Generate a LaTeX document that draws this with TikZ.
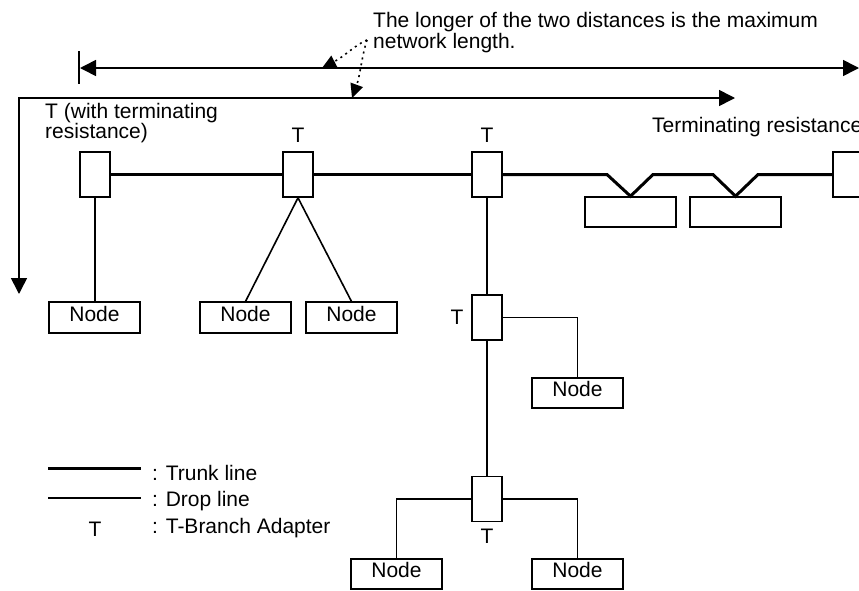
\documentclass[tikz,border=0pt]{standalone}
\usepackage{fontspec}
\setmainfont{Liberation Sans}
\usetikzlibrary{arrows.meta}
\begin{document}
\begin{tikzpicture}[x=1pt,y=-1pt,
  every node/.style={font=\fontsize{21pt}{20pt}\selectfont},
  txt/.style={inner sep=0pt,anchor=base west},
  ctxt/.style={inner sep=0pt,anchor=base},
  tbox/.style={draw,line width=1.6pt,minimum width=30pt,minimum height=45pt,inner sep=0pt},
  nbox/.style={draw,line width=1.6pt,minimum width=91pt,minimum height=30.5pt,inner sep=0pt,text height=15.3pt,text depth=8pt},
  trunk/.style={line width=3pt},
  drop/.style={line width=1.6pt},
  dim/.style={line width=1.6pt,{Triangle[length=16pt,width=16pt]}-{Triangle[length=16pt,width=16pt]}},
  dotarrow/.style={line width=1.6pt,dash pattern=on 2pt off 4pt,-{Triangle[length=14pt,width=13pt]}}
]
\useasboundingbox (0,0) rectangle (859,590);

% title text
\node[txt] (title1) at (373,27) {The longer of the two distances is the maximum};
\node[txt] (title2) at (373,48) {network length.};

% dimension arrows
\coordinate (tickt) at (79,51);
\coordinate (tickb) at (79,84);
\draw[line width=1.6pt] (tickt) -- (tickb);
\coordinate (a1l) at (80,68);
\coordinate (a1r) at (859,68);
\draw[dim] (a1l) -- (a1r);
\coordinate (a2b) at (19,294);
\coordinate (a2c) at (19,98);
\coordinate (a2r) at (735,98);
\draw[dim] (a2b) -- (a2c) -- (a2r);

% dotted pointer arrows
\coordinate (dstart) at (367,40);
\coordinate (dtip1) at (322,68);
\coordinate (dtip2) at (352,98);
\draw[dotarrow] (dstart) .. controls (355,45) and (345,56) .. (dtip1);
\draw[dotarrow] (dstart) .. controls (362,55) and (360,76) .. (dtip2);

% labels
\node[txt] (lab1a) at (45,118) {T (with terminating};
\node[txt] (lab1b) at (45,138) {resistance)};
\node[ctxt] (labTb) at (298,142) {T};
\node[ctxt] (labTc) at (487,142) {T};
\node[txt] (labTR) at (652,132) {Terminating resistance};
\node[ctxt] (labTd) at (457,324) {T};
\node[ctxt] (labTe) at (487,543) {T};

% T-branch adapters
\node[tbox] (ta) at (95,174.5) {};
\node[tbox] (tb) at (298,174.5) {};
\node[tbox] (tc) at (487,174.5) {};
\node[tbox] (tr) at (848,174.5) {};
\node[tbox] (td) at (487,317.5) {};
\node[tbox] (te) at (487,499) {};

% terminal devices on trunk
\node[draw,line width=1.6pt,minimum width=91pt,minimum height=30pt,inner sep=0pt] (ra) at (630.5,212) {};
\node[draw,line width=1.6pt,minimum width=91pt,minimum height=30pt,inner sep=0pt] (rb) at (735.5,212) {};

% nodes
\node[nbox] (n1) at (94.5,317.5) {Node};
\node[nbox] (n2) at (245.5,317.5) {Node};
\node[nbox] (n3) at (351.5,317.5) {Node};
\node[nbox] (n4) at (577.5,393) {Node};
\node[nbox] (n5) at (396.5,574) {Node};
\node[nbox] (n6) at (577.5,574) {Node};

% trunk line
\draw[trunk] (ta.east) -- (tb.west);
\draw[trunk] (tb.east) -- (tc.west);
\draw[trunk,line join=miter] (tc.east) -- (607,174.5) -- (ra.north) -- (653,174.5) -- (713,174.5) -- (rb.north) -- (758,174.5) -- (tr.west);

% drop lines
\draw[drop] (ta.south) -- (ta.south |- n1.north);
\draw[drop] (tb.south) -- (n2.north);
\draw[drop] (tb.south) -- (n3.north);
\draw[drop] (tc.south) -- (td.north);
\draw[drop] (td.south) -- (te.north);
\draw[drop] (td.east) -| (n4.north);
\draw[drop] (te.west) -| (n5.north);
\draw[drop] (te.east) -| (n6.north);

% legend
\coordinate (lg1a) at (48,468);
\coordinate (lg1b) at (141,468);
\coordinate (lg2a) at (48,498);
\coordinate (lg2b) at (141,498);
\draw[trunk] (lg1a) -- (lg1b);
\draw[drop] (lg2a) -- (lg2b);
\node[ctxt] (lgT) at (95,536) {T};
\node[txt] (lgt1) at (152,480) {: Trunk line};
\node[txt] (lgt2) at (152,506) {: Drop line};
\node[txt] (lgt3) at (152,533) {: T-Branch Adapter};
\end{tikzpicture}
\end{document}
